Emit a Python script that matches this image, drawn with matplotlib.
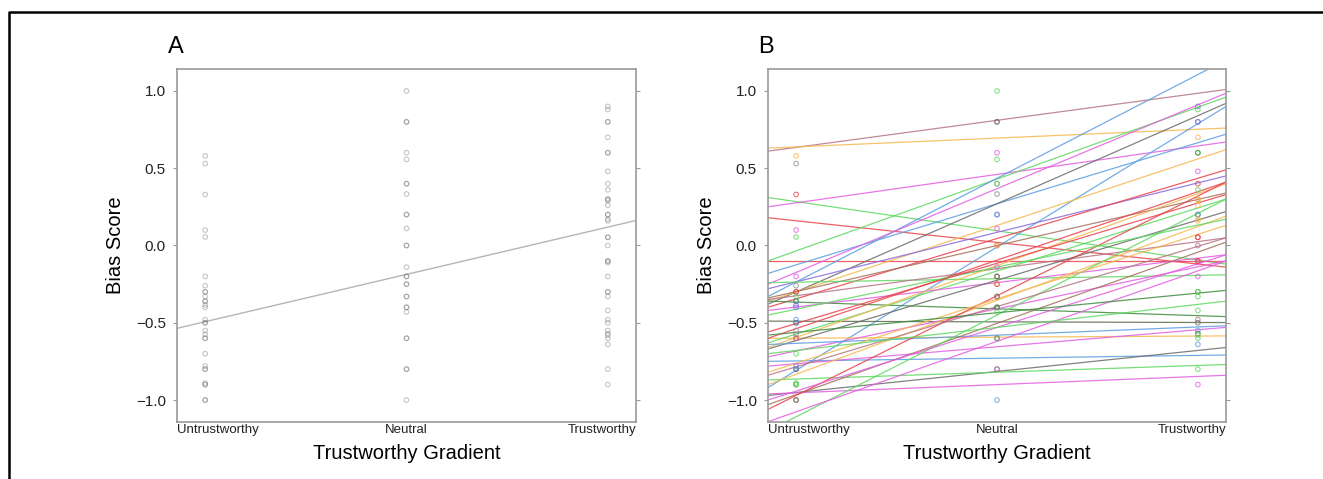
"""
Bias score vs trustworthy gradient.
A: pooled points with a single regression line.
B: same points coloured by participant with one fitted line each.
"""
import matplotlib
matplotlib.use("Agg")
import matplotlib.pyplot as plt
from matplotlib.lines import Line2D

plt.rcParams["font.family"] = ["Liberation Sans", "DejaVu Sans"]

COND_LABELS = ["Untrustworthy", "Neutral", "Trustworthy"]
COND_X = [1, 2, 3]
XLIM = (0.86, 3.14)
YLIM = (-1.142, 1.142)

# participant colours (R-ish palette)
PAL = {
    "mauve": "#b77585", "orange": "#f6b850", "green": "#5fd860",
    "magenta": "#e45ee2", "red": "#e8434c", "blue": "#5b9de0",
    "darkgrey": "#6b6b6b", "grey": "#8e8e8e", "purple": "#8a6ae0",
    "brown": "#a5725c", "darkolive": "#5c6b4c", "darkgreen": "#3f8c3f",
}

# raw scores per condition
untrust_vals = [0.58, 0.53, 0.33, 0.10, 0.055, -0.20, -0.26, -0.30, -0.30,
                -0.33, -0.36, -0.36, -0.385, -0.40, -0.48, -0.50, -0.50,
                -0.55, -0.575, -0.60, -0.60, -0.70, -0.78, -0.80, -0.80,
                -0.89, -0.90, -0.90, -1.0, -1.0]
untrust_cols = ["orange", "grey", "red", "magenta", "green", "magenta", "grey",
                "red", "red", "green", "blue", "darkgreen", "purple", "purple",
                "blue", "blue", "darkgrey", "grey", "grey", "red", "mauve",
                "green", "purple", "blue", "darkgrey", "green", "darkgreen",
                "green", "brown", "darkgrey"]

neutral_vals = [1.0, 0.80, 0.80, 0.60, 0.557, 0.40, 0.40, 0.333, 0.20, 0.20,
                0.11, 0.0, 0.0, -0.14, -0.20, -0.20, -0.25, -0.25, -0.33,
                -0.33, -0.40, -0.40, -0.43, -0.60, -0.60, -0.80, -0.80, -1.0]
neutral_cols = ["green", "mauve", "darkgrey", "magenta", "green", "grey",
                "green", "grey", "purple", "blue", "magenta", "red", "orange",
                "magenta", "brown", "darkolive", "orange", "red", "darkgrey",
                "brown", "darkgrey", "darkgreen", "green", "darkgreen", "grey",
                "purple", "mauve", "blue"]

trust_vals = [0.90, 0.88, 0.80, 0.80, 0.70, 0.60, 0.60, 0.48, 0.40, 0.36,
              0.30, 0.30, 0.29, 0.26, 0.20, 0.20, 0.17, 0.16, 0.053, 0.053,
              0.0, -0.10, -0.10, -0.11, -0.20, -0.30, -0.30, -0.33, -0.42,
              -0.48, -0.50, -0.55, -0.57, -0.58, -0.60, -0.64, -0.80, -0.90]
trust_cols = ["purple", "green", "blue", "purple", "orange", "green",
              "darkgreen", "magenta", "red", "green", "brown", "orange",
              "orange", "orange", "darkgreen", "blue", "orange", "orange",
              "red", "red", "mauve", "red", "red", "magenta", "magenta",
              "darkgreen", "green", "green", "green", "mauve", "darkgrey",
              "blue", "darkolive", "green", "green", "blue", "green", "magenta"]

# pooled fit (panel A): value at Untrustworthy, slope per step
pooled_at_untrust = -0.493
pooled_slope = 0.306

# per-participant fits (panel B): value at Untrustworthy, slope per step
fit_at_untrust = [0.635, 0.638, 0.284, 0.276, 0.160, -0.10, -0.035, -0.125,
                  -0.236, -0.808, -0.174, -0.300, -0.300, -0.235, -0.345,
                  -0.298, -0.237, -0.325, -0.490, -0.600, -0.366, -0.573,
                  -0.398, -0.538, -0.595, -0.615, -0.682, -0.747, -0.633,
                  -0.951, -0.864, -0.953, -0.765, -0.833, -0.965, -0.970,
                  -1.108, -1.076, -0.785, -0.762, -0.412, -0.942, -0.505,
                  -0.679, -0.562]
fit_slope = [0.175, 0.057, -0.189, 0.184, -0.140, 0.0, 0.465, 0.395,
             0.671, 0.798, 0.542, 0.570, 0.430, 0.320, 0.390, 0.298,
             0.022, 0.175, -0.004, 0.007, -0.044, 0.408, 0.158, 0.443,
             0.465, 0.390, 0.272, 0.018, 0.053, 0.136, 0.044, 0.053,
             0.110, 0.478, 0.461, 0.645, 0.658, 0.456, 0.390, 0.417,
             0.272, 0.412, 0.390, 0.149, 0.127]
fit_cols = ["mauve", "orange", "green", "magenta", "red", "red", "green",
            "blue", "blue", "blue", "magenta", "darkgrey", "orange", "purple",
            "red", "brown", "green", "mauve", "darkolive", "orange",
            "darkgreen", "green", "magenta", "red", "orange", "darkgrey",
            "magenta", "blue", "blue", "darkgrey", "green", "magenta",
            "magenta", "orange", "brown", "red", "green", "magenta", "mauve",
            "orange", "green", "magenta", "red", "green", "darkgreen"]

all_vals = [untrust_vals, neutral_vals, trust_vals]
all_cols = [untrust_cols, neutral_cols, trust_cols]


def style_axes(ax):
    ax.set_xlim(*XLIM)
    ax.set_ylim(*YLIM)
    for sp in ax.spines.values():
        sp.set_color("#9a9a9a")
        sp.set_linewidth(1.2)
    ax.set_yticks([-1.0, -0.5, 0.0, 0.5, 1.0])
    ax.set_yticklabels(["\u22121.0", "\u22120.5", "0.0", "0.5", "1.0"])
    ax.tick_params(axis="y", which="both", left=True, right=True,
                   direction="out", length=3, width=0.8, color="#9a9a9a",
                   labelsize=11, labelcolor="#222222", pad=5)
    ax.set_xticks([XLIM[0], 2, XLIM[1]])
    ax.set_xticklabels(COND_LABELS)
    ax.tick_params(axis="x", length=0, labelsize=9.5, pad=1.5,
                   labelcolor="#222222")
    for lab, ha in zip(ax.get_xticklabels(), ["left", "center", "right"]):
        lab.set_ha(ha)
    ax.set_xlabel("Trustworthy Gradient", fontsize=14.5, labelpad=6)
    ax.set_ylabel("Bias Score", fontsize=14.5, labelpad=8)


fig = plt.figure(figsize=(13.23, 4.79), dpi=100)
axA = fig.add_axes([177 / 1323, 1 - 422 / 479, 459 / 1323, 353 / 479])
axB = fig.add_axes([768 / 1323, 1 - 422 / 479, 458 / 1323, 353 / 479])

# panel A
for x, vals in zip(COND_X, all_vals):
    axA.scatter([x] * len(vals), vals, s=11, facecolors="none",
                edgecolors="#6f6f6f", linewidths=0.8, alpha=0.4, zorder=3)
axA.axline((1, pooled_at_untrust), slope=pooled_slope, color="#b5b5b5",
           lw=1.0, zorder=2)
style_axes(axA)

# panel B
for a, b, c in zip(fit_at_untrust, fit_slope, fit_cols):
    axB.axline((1, a), slope=b, color=PAL[c], lw=0.9, alpha=0.85, zorder=2)
for x, vals, cols in zip(COND_X, all_vals, all_cols):
    axB.scatter([x] * len(vals), vals, s=11, facecolors="none",
                edgecolors=[PAL[c] for c in cols], linewidths=0.8,
                alpha=0.75, zorder=3)
style_axes(axB)

fig.text(168 / 1323, 1 - 53 / 479, "A", fontsize=17, va="baseline")
fig.text(758 / 1323, 1 - 53 / 479, "B", fontsize=17, va="baseline")

# page frame (left and top edges)
fig.add_artist(Line2D([9 / 1323, 9 / 1323, 1.0], [0.0, 1 - 12 / 479, 1 - 12 / 479],
                      transform=fig.transFigure, color="black", lw=1.8))

fig.savefig("out.png", dpi=100)
